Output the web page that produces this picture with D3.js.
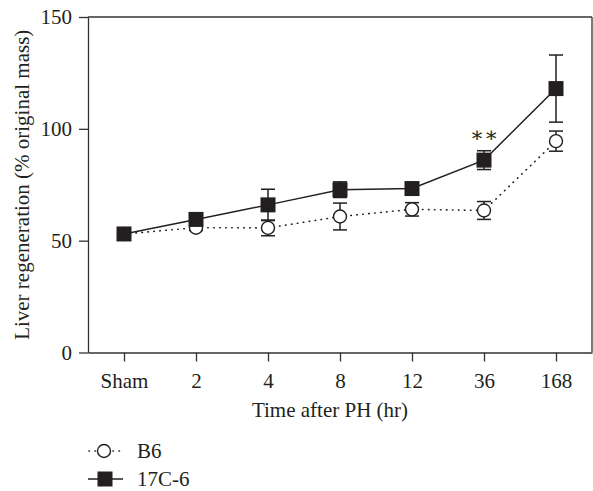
<!DOCTYPE html>
<html>
<head>
<meta charset="utf-8">
<script src="https://cdn.jsdelivr.net/npm/d3@7"></script>
<style>
  body { margin: 0; background: #fff; }
  text { font-family: "Liberation Serif", "DejaVu Serif", serif; fill: #231f20; }
</style>
</head>
<body>
<div id="vis"></div>
<script>
// categories on the x axis
var timePoints = ["Sham", "2", "4", "8", "12", "36", "168"];

// B6 series: mean and error
var b6Mean = [53, 55.8, 55.7, 60.8, 64, 63.5, 94.5];
var b6Err  = [0, 1.2, 3.5, 6, 3, 4, 4.5];

// 17C-6 series: mean and error
var c17Mean = [53, 59.5, 66, 72.8, 73.3, 86, 118];
var c17Err  = [0.5, 1.5, 7, 3.5, 1.5, 4.2, 15];

var yTicks = [0, 50, 100, 150];

var m_width = 593, m_height = 491;
var m_left = 88, m_right = 592, m_top = 17, m_bottom = 352.5;
var m_font = "21px";

var svg = d3.select("#vis").append("svg")
    .attr("width", m_width)
    .attr("height", m_height);

var x = d3.scalePoint()
    .domain(timePoints)
    .range([m_left, m_right])
    .padding(0.5);

var y = d3.scaleLinear()
    .domain([0, 150])
    .range([m_bottom, m_top]);

// frame: top and right borders
svg.append("line")
    .attr("x1", m_left).attr("x2", m_right)
    .attr("y1", m_top).attr("y2", m_top)
    .attr("stroke", "#333").attr("stroke-width", 1.3);
svg.append("line")
    .attr("x1", m_right).attr("x2", m_right)
    .attr("y1", m_top).attr("y2", m_bottom)
    .attr("stroke", "#333").attr("stroke-width", 1.3);

var yAxis = svg.append("g")
    .attr("transform", "translate(" + m_left + ",0)")
    .call(d3.axisLeft(y).tickValues(yTicks).tickSize(9).tickSizeOuter(0).tickPadding(7));

var xAxis = svg.append("g")
    .attr("transform", "translate(0," + m_bottom + ")")
    .call(d3.axisBottom(x).tickSize(9).tickSizeOuter(0).tickPadding(8));

[yAxis, xAxis].forEach(function(g)
{
    g.select(".domain").attr("stroke", "#333").attr("stroke-width", 1.3);
    g.selectAll(".tick line").attr("stroke", "#333").attr("stroke-width", 1.3);
    g.selectAll(".tick text")
        .attr("fill", "#231f20")
        .style("font-family", "'Liberation Serif', serif")
        .style("font-size", m_font);
});
xAxis.selectAll(".tick text").attr("dy", "0.9em");

// axis titles
svg.append("text")
    .attr("x", 330).attr("y", 417)
    .attr("text-anchor", "middle")
    .style("font-size", m_font)
    .text("Time after PH (hr)");

svg.append("text")
    .attr("transform", "translate(29," + ((m_top + m_bottom) / 2) + ") rotate(-90)")
    .attr("text-anchor", "middle")
    .style("font-size", m_font)
    .text("Liver regeneration (% original mass)");

function drawSeries(means, errs, dash, marker)
{
    var pts = timePoints.map(function(t, i) { return { t: t, m: means[i], e: errs[i] }; });
    var line = d3.line()
        .x(function(d) { return x(d.t); })
        .y(function(d) { return y(d.m); });

    svg.append("path")
        .datum(pts)
        .attr("d", line)
        .attr("fill", "none")
        .attr("stroke", "#231f20")
        .attr("stroke-width", dash ? 1.6 : 1.5)
        .attr("stroke-linecap", "round")
        .attr("stroke-dasharray", dash);

    var g = svg.append("g");
    pts.forEach(function(d)
    {
        if (d.e <= 0) return;
        var cx = x(d.t);
        var y1 = y(d.m + d.e), y2 = y(d.m - d.e);
        g.append("line").attr("x1", cx).attr("x2", cx).attr("y1", y1).attr("y2", y2)
            .attr("stroke", "#231f20").attr("stroke-width", 1.5);
        [y1, y2].forEach(function(yy)
        {
            g.append("line").attr("x1", cx - 7).attr("x2", cx + 7).attr("y1", yy).attr("y2", yy)
                .attr("stroke", "#231f20").attr("stroke-width", 1.5);
        });
    });

    pts.forEach(function(d)
    {
        marker(g, x(d.t), y(d.m));
    });
}

function circleMarker(g, cx, cy)
{
    g.append("circle").attr("cx", cx).attr("cy", cy).attr("r", 6.5)
        .attr("fill", "#fff").attr("stroke", "#231f20").attr("stroke-width", 1.4);
}

function squareMarker(g, cx, cy)
{
    g.append("rect").attr("x", cx - 7.5).attr("y", cy - 7.5)
        .attr("width", 15).attr("height", 15)
        .attr("fill", "#231f20");
}

drawSeries(b6Mean, b6Err, "0.5,5.5", circleMarker);
drawSeries(c17Mean, c17Err, null, squareMarker);

// significance mark at 36 h
svg.append("text")
    .attr("x", x("36")).attr("y", 142)
    .attr("text-anchor", "middle")
    .style("font-size", m_font)
    .text("∗∗");

// legend
var legend = svg.append("g");
legend.append("line")
    .attr("x1", 89).attr("x2", 123).attr("y1", 451).attr("y2", 451)
    .attr("stroke", "#231f20").attr("stroke-width", 1.6)
    .attr("stroke-linecap", "round").attr("stroke-dasharray", "0.5,5.5");
circleMarker(legend, 104, 451);
legend.append("text").attr("x", 137).attr("y", 458)
    .style("font-size", m_font).text("B6");

legend.append("line")
    .attr("x1", 88).attr("x2", 123).attr("y1", 479).attr("y2", 479)
    .attr("stroke", "#231f20").attr("stroke-width", 1.5);
squareMarker(legend, 105, 479);
legend.append("text").attr("x", 137).attr("y", 486)
    .style("font-size", m_font).text("17C-6");
</script>
</body>
</html>
